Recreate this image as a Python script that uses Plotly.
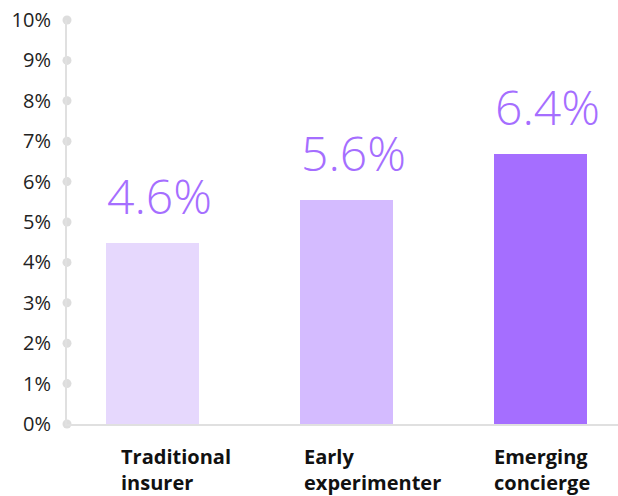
import plotly.graph_objects as go

categories = ["Traditional insurer", "Early experimenter", "Emerging concierge"]
category_lines = ["Traditional<br>insurer", "Early<br>experimenter", "Emerging<br>concierge"]
values = [4.48, 5.54, 6.68]
value_labels = ["4.6%", "5.6%", "6.4%"]
tick_values = [0, 1, 2, 3, 4, 5, 6, 7, 8, 9, 10]
tick_labels = ["0%", "1%", "2%", "3%", "4%", "5%", "6%", "7%", "8%", "9%", "10%"]
bar_colors = ["#e6d8fd", "#d4bbff", "#a56eff"]

x_idx = list(range(len(categories)))
x_lo, x_hi = -0.44, 2.40

fig = go.Figure()
fig.add_trace(go.Bar(
    x=x_idx, y=values, width=0.48, marker=dict(color=bar_colors, line=dict(width=0)),
    hoverinfo="skip", showlegend=False,
))
# tick dots on y axis
fig.add_trace(go.Scatter(
    x=[x_lo] * len(tick_values), y=tick_values, mode="markers",
    marker=dict(color="#dddddd", size=9), cliponaxis=False,
    hoverinfo="skip", showlegend=False,
))

annotations = []
for i, (v, lab) in enumerate(zip(values, value_labels)):
    annotations.append(dict(
        x=i - 0.24, y=v, xref="x", yref="y", text=lab, showarrow=False,
        xanchor="left", yanchor="bottom", xshift=-1, yshift=13,
        font=dict(family="Open Sans", size=48, color="#a56eff", weight=300),
    ))
cat_shift = [15, 4, 0]
for i, lab in enumerate(category_lines):
    annotations.append(dict(
        x=i - 0.24, y=0, xref="x", yref="y", text=lab, showarrow=False,
        xanchor="left", yanchor="top", xshift=cat_shift[i] - 2, yshift=-17,
        align="left",
        font=dict(family="Open Sans", size=20, color="#111111", weight=700),
    ))

fig.update_layout(
    width=618, height=496,
    margin=dict(l=67, r=0, t=20, b=72),
    plot_bgcolor="white", paper_bgcolor="white",
    annotations=annotations,
    bargap=0,
)
fig.update_xaxes(range=[x_lo, x_hi], showticklabels=False, showgrid=False,
                 zeroline=False, showline=True, linecolor="#e0e0e0", linewidth=2,
                 fixedrange=True)
fig.update_yaxes(range=[0, 10], tickmode="array", tickvals=tick_values, ticktext=tick_labels,
                 showgrid=False, zeroline=False, showline=True, linecolor="#e0e0e0",
                 linewidth=2, ticks="", ticklabelstandoff=10,
                 tickfont=dict(family="Open Sans", size=20, color="#222222"),
                 fixedrange=True)

fig.write_html("out.html")
